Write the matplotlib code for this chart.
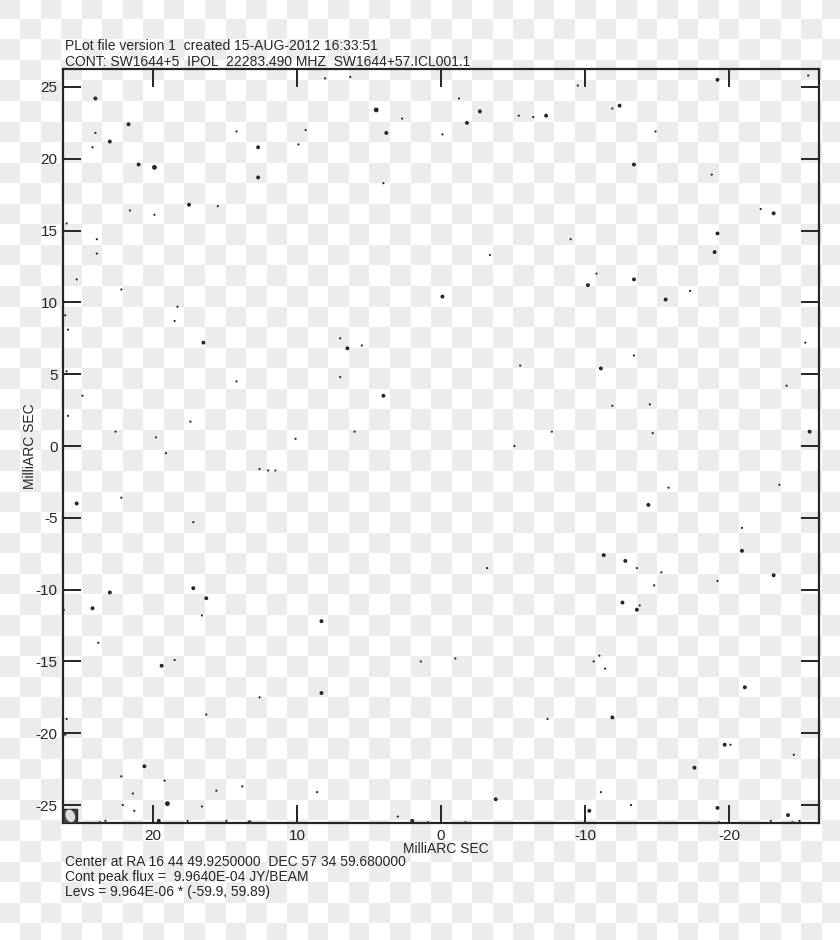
#!/usr/bin/env python3
"""AIPS-style contour plot (PLot file) of SW1644+57, recreated with matplotlib."""

import numpy as np
import matplotlib
matplotlib.use("Agg")
import matplotlib.pyplot as plt
import matplotlib.patches as patches

# --------------------------------------------------------------------------
# Data (milliarcsec offsets of the contour blobs, level 1=small .. 3=large)
# --------------------------------------------------------------------------
dot_x = [24.0, 8.05, 6.3, -9.5, -19.2, -25.5, 21.7, 24.0, 23.0, 24.2,
         21.0, 19.9, 21.6, 19.9, 17.5, 15.5, 26.0, 23.9, 23.9, 14.2,
         12.7, 12.7, 9.4, 9.9, 4.5, 3.8, 2.7, 4.0, -1.25, -0.1,
         -1.8, -2.7, -5.4, -6.4, -7.3, -11.9, -12.4, -14.9, -13.4, -18.8,
         -22.2, -23.1, -9.0, -19.2, -19.0, -3.4, -10.8, -10.2, -13.4, -15.6,
         -17.3, -0.1, 25.3, 22.2, 18.3, 18.5, 16.5, 26.1, 25.9, 7.0,
         6.5, 5.5, 7.0, 4.0, -5.5, -11.1, -13.4, -11.9, -14.5, -24.0,
         -25.3, -25.6, 26.0, 24.9, 25.9, 22.6, 19.8, 19.1, 17.4, 10.1,
         6.0, -5.1, -7.7, -14.7, 12.6, 12.0, 11.5, 25.3, 22.2, 17.2,
         14.2, -14.4, -15.8, -23.5, -20.9, -11.3, -12.8, -13.6, -15.3, -20.9,
         -23.1, -19.2, -3.2, 17.2, 16.3, 23.0, 26.2, 24.2, 16.6, -13.8,
         -12.6, -13.6, -14.8, 8.3, 23.8, 19.4, 18.5, -1.0, 1.4, -11.0,
         -10.6, -11.4, -21.1, 8.3, 12.6, 16.3, -7.4, -11.9, 26.0, 26.1,
         -19.7, -20.1, -24.5, -17.6, 20.6, 22.2, 21.4, 19.2, 22.1, 21.3,
         19.0, 16.6, 15.6, 19.6, 17.6, 23.7, 23.3, 14.9, 13.8, 13.3,
         10.0, 8.6, 3.0, 2.0, 0.9, -1.7, -3.8, -10.3, -11.1, -13.2,
         -19.2, -19.3, -22.9, -24.1, -24.4, -24.9]
dot_y = [24.2, 25.6, 25.7, 25.1, 25.5, 25.8, 22.4, 21.8, 21.2, 20.8,
         19.6, 19.4, 16.4, 16.1, 16.8, 16.7, 15.5, 14.4, 13.4, 21.9,
         20.8, 18.7, 22.0, 21.0, 23.4, 21.8, 22.8, 18.3, 24.2, 21.7,
         22.5, 23.3, 23.0, 22.9, 23.0, 23.5, 23.7, 21.9, 19.6, 18.9,
         16.5, 16.2, 14.4, 14.8, 13.5, 13.3, 12.0, 11.2, 11.6, 10.2,
         10.8, 10.4, 11.6, 10.9, 9.7, 8.7, 7.2, 9.1, 8.1, 7.5,
         6.8, 7.0, 4.8, 3.5, 5.6, 5.4, 6.3, 2.8, 2.9, 4.2,
         7.2, 1.0, 5.2, 3.5, 2.1, 1.0, 0.6, -0.5, 1.7, 0.5,
         1.0, 0.0, 1.0, 0.9, -1.6, -1.7, -1.7, -4.0, -3.6, -5.3,
         4.5, -4.1, -2.9, -2.7, -5.7, -7.6, -8.0, -8.5, -8.8, -7.3,
         -9.0, -9.4, -8.5, -9.9, -10.6, -10.2, -11.4, -11.3, -11.8, -11.1,
         -10.9, -11.4, -9.7, -12.2, -13.7, -15.3, -14.9, -14.8, -15.0, -14.6,
         -15.0, -15.5, -16.8, -17.2, -17.5, -18.7, -19.0, -18.9, -19.0, -20.1,
         -20.8, -20.8, -21.5, -22.4, -22.3, -23.0, -24.2, -23.3, -25.0, -25.4,
         -24.9, -25.1, -24.0, -26.1, -26.1, -26.2, -26.1, -26.1, -23.7, -26.2,
         -25.5, -24.1, -25.8, -26.1, -26.2, -26.2, -24.6, -25.4, -24.1, -25.0,
         -25.2, -26.2, -26.1, -25.7, -26.2, -26.1]
dot_level = [2, 1, 1, 1, 2, 1, 2, 1, 2, 1,
             2, 3, 1, 1, 2, 1, 1, 1, 1, 1,
             2, 2, 1, 1, 3, 2, 1, 1, 1, 1,
             2, 2, 1, 1, 2, 1, 2, 1, 2, 1,
             1, 2, 1, 2, 2, 1, 1, 2, 2, 2,
             1, 2, 1, 1, 1, 1, 2, 1, 1, 1,
             2, 1, 1, 2, 1, 2, 1, 1, 1, 1,
             1, 2, 1, 1, 1, 1, 1, 1, 1, 1,
             1, 1, 1, 1, 1, 1, 1, 2, 1, 1,
             1, 2, 1, 1, 1, 2, 2, 1, 1, 2,
             2, 1, 1, 2, 2, 2, 1, 2, 1, 1,
             2, 2, 1, 2, 1, 2, 1, 1, 1, 1,
             1, 1, 2, 2, 1, 1, 1, 2, 1, 1,
             2, 1, 1, 2, 2, 1, 1, 1, 1, 1,
             3, 1, 1, 2, 1, 1, 1, 1, 1, 2,
             1, 1, 1, 2, 1, 1, 2, 2, 1, 1,
             2, 1, 1, 2, 1, 1]

x_ticks = [20, 10, 0, -10, -20]
y_ticks = [25, 20, 15, 10, 5, 0, -5, -10, -15, -20, -25]
axis_limit = 26.25

header_lines = ["PLot file version 1  created 15-AUG-2012 16:33:51",
                "CONT: SW1644+5  IPOL  22283.490 MHZ  SW1644+57.ICL001.1"]
footer_lines = ["Center at RA 16 44 49.9250000  DEC 57 34 59.680000",
                "Cont peak flux =  9.9640E-04 JY/BEAM",
                "Levs = 9.964E-06 * (-59.9, 59.89)"]
axis_label = "MilliARC SEC"

# --------------------------------------------------------------------------
# Figure
# --------------------------------------------------------------------------
W, H = 840, 940
ink = "#262626"
plt.rcParams["font.family"] = ["Liberation Sans", "DejaVu Sans"]
plt.rcParams["axes.unicode_minus"] = False

fig = plt.figure(figsize=(W / 100, H / 100), dpi=100)

# transparent-PNG checkerboard behind everything
bg = fig.add_axes([0, 0, 1, 1], zorder=-10)
sq = 740 / 36
yy, xx = np.mgrid[0:H, 0:W]
board = ((np.floor((xx + 1.1) / sq) + np.floor((yy - 80) / sq)) % 2 == 0)
bg.imshow(np.where(board, 0.925, 1.0), cmap="gray", vmin=0, vmax=1,
          extent=(0, W, H, 0), interpolation="nearest", aspect="auto")
bg.axis("off")

ax_left, ax_top, ax_w, ax_h = 63, 69, 756, 754
ax = fig.add_axes([ax_left / W, 1 - (ax_top + ax_h) / H, ax_w / W, ax_h / H])
ax.set_facecolor("none")

sizes = {1: 2.5, 2: 8.0, 3: 12.0}
ax.scatter(dot_x, dot_y, s=[sizes[l] for l in dot_level], c=ink,
           linewidths=0, zorder=3)

# beam symbol in the lower-left corner
bx, by = axis_limit, -axis_limit
ax.add_patch(patches.Rectangle((bx - 1.0, by), 1.0, 1.0, facecolor="#444",
                               edgecolor=ink, linewidth=1.0, zorder=4))
ax.add_patch(patches.Ellipse((bx - 0.5, by + 0.5), 0.55, 0.8, angle=-20,
                             facecolor="#ddd", edgecolor="#ddd", zorder=5))

ax.set_xlim(axis_limit, -axis_limit)
ax.set_ylim(-axis_limit, axis_limit)
ax.set_xticks(x_ticks)
ax.set_yticks(y_ticks)
ax.tick_params(direction="in", length=13, width=1.4, color=ink,
               top=True, right=True, labelsize=11, labelcolor=ink, pad=4)
for sp in ax.spines.values():
    sp.set_linewidth(1.6)
    sp.set_color(ink)

ax.set_xlabel(axis_label, fontsize=10, color=ink)
ax.xaxis.set_label_coords((446 - ax_left) / ax_w, -19 / ax_h)
ax.set_ylabel(axis_label, fontsize=10, color=ink)
ax.yaxis.set_label_coords(-26 / ax_w, 0.5)

for i, line in enumerate(header_lines):
    fig.text(65 / W, 1 - (50 + 16 * i) / H, line, fontsize=10, color=ink,
             va="baseline")
for i, line in enumerate(footer_lines):
    fig.text(65 / W, 1 - (866 + 15 * i) / H, line, fontsize=10, color=ink,
             va="baseline")

fig.savefig("out.png", dpi=100)
